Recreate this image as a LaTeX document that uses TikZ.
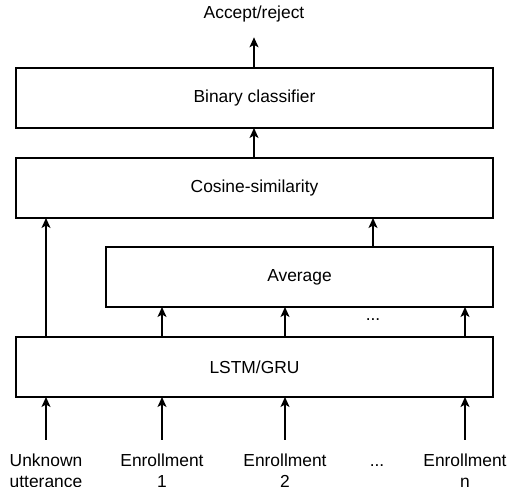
\documentclass[tikz,border=0pt]{standalone}
\usepackage{fontspec}
\setmainfont{Liberation Sans}
\usetikzlibrary{arrows.meta,calc}
\begin{document}
\begin{tikzpicture}[x=1pt,y=-1pt,
  font=\fontsize{17.4}{20.5}\selectfont,
  box/.style={draw, line width=1.3pt, inner sep=0pt, outer sep=0pt, minimum height=60pt, fill=white},
  arr/.style={line width=1.3pt, -{Stealth[length=10pt,width=9pt,inset=2.5pt]}},
  lab/.style={align=center, inner sep=1pt, anchor=base}]
\useasboundingbox (0,0) rectangle (510,486);
\node[box, minimum width=477pt] (bin) at (254.5,98) {Binary classifier};
\node[box, minimum width=477pt] (cos) at (254.5,188) {Cosine-similarity};
\node[box, minimum width=387pt] (avg) at (299.5,277) {Average};
\node[box, minimum width=477pt] (lstm) at (254.5,367) {LSTM/GRU};
\node[inner sep=1pt, anchor=base] (acc) at (254,18.5) {Accept/reject};
\node[lab] (u) at (46,487) {Unknown\\utterance};
\node[lab] (e1) at (162,487) {Enrollment\\1};
\node[lab] (e2) at (285,487) {Enrollment\\2};
\node[lab] (dots) at (377,466.5) {...};
\node[lab] (en) at (465,487) {Enrollment\\n};
\node[inner sep=0pt] (mdots) at (373,320) {...};
\draw[arr, shorten >=14pt] (bin.north -| acc.south) -- (acc.south);
\draw[arr] (cos.north -| acc.south) -- (bin.south -| acc.south);
\draw[arr] (u |- lstm.north) -- (u |- cos.south);
\draw[arr] ([xshift=73.5pt]avg.north) -- ([xshift=73.5pt]avg.north |- cos.south);
\foreach \n in {e1,e2,en}{
  \draw[arr] (\n |- lstm.north) -- (\n |- avg.south);
}
\foreach \n in {u,e1,e2,en}{
  \draw[arr, shorten <=13pt] (\n.north) -- (\n |- lstm.south);
}
\end{tikzpicture}
\end{document}
